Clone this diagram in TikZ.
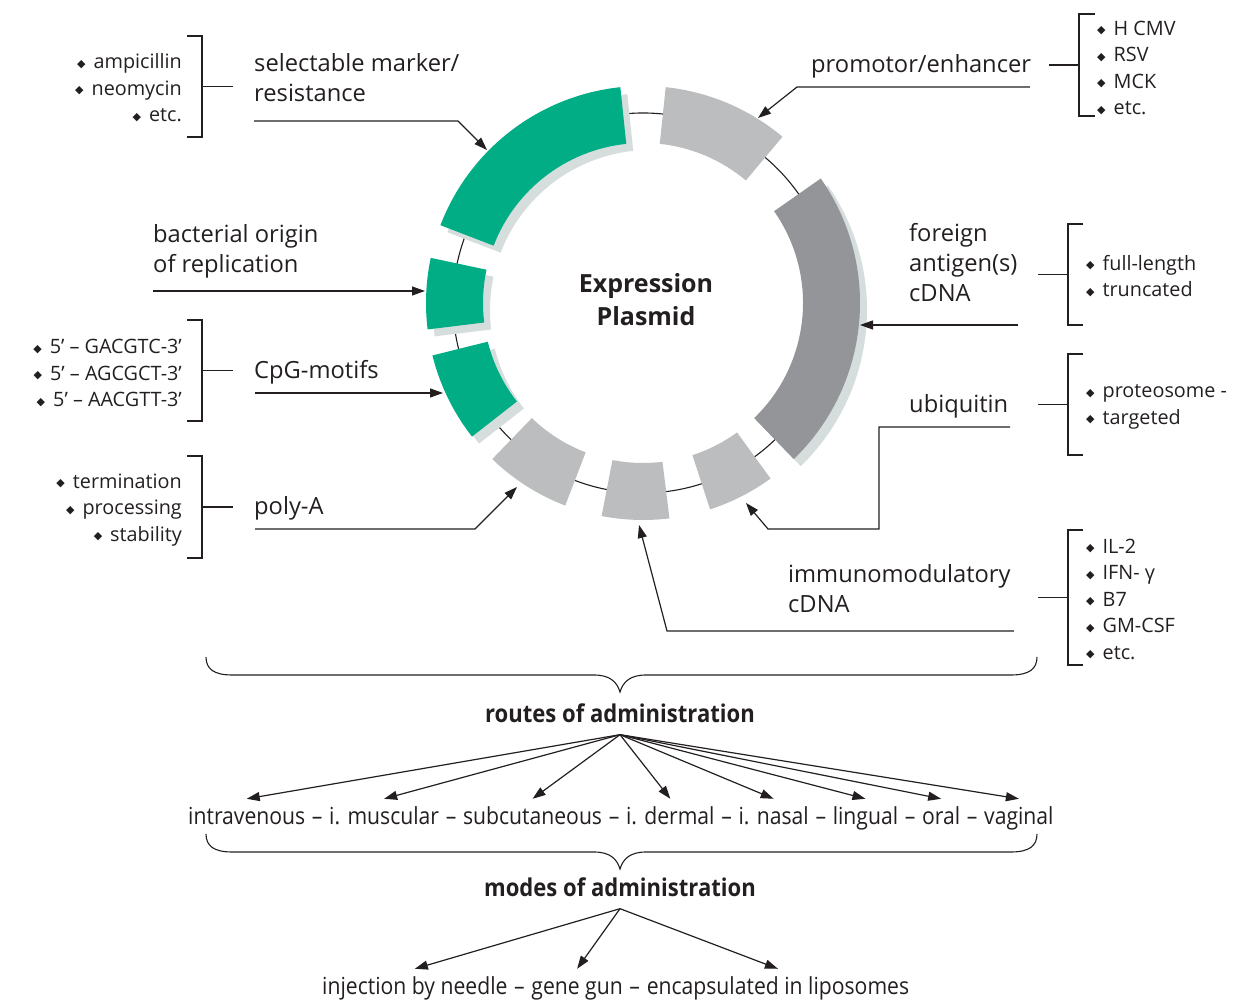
\documentclass[tikz,border=0pt]{standalone}
\usepackage{fontspec}
\setmainfont{Open Sans}
\newfontfamily\condfont[FakeStretch=0.9]{Open Sans}
\newfontfamily\symbfont{DejaVu Sans}
\usetikzlibrary{arrows.meta, positioning}

\definecolor{PlasGreen}{HTML}{00AD85}
\definecolor{PlasGrey}{HTML}{BBBDBF}
\definecolor{PlasDark}{HTML}{939598}
\definecolor{PlasShade}{HTML}{D5DEDD}
\definecolor{InkBlack}{HTML}{231F20}

% small diamond bullet in front of list entries
\newcommand{\bul}{\raisebox{1.5pt}{\symbfont\fontsize{11}{11}\selectfont ◆}\hspace{8pt}}
% annular sector of the plasmid ring: start angle, end angle, fill
\newcommand{\ringseg}[3]{%
  \fill[#3] (#1:160) arc[start angle=#1, end angle=#2, radius=160]
    -- (#2:217) arc[start angle=#2, end angle=#1, radius=217] -- cycle;}

\tikzset{
  lbl/.style={inner sep=0pt, anchor=west, align=left, text=InkBlack,
              font=\fontsize{23.7}{30}\selectfont},
  items/.style={inner sep=0pt, text=InkBlack, font=\fontsize{19.8}{26.5}\selectfont},
  brack/.style={draw=InkBlack, line width=1.2pt},
  pin/.style={draw=InkBlack, line width=1.2pt, -{Triangle[length=13pt,width=9pt]}},
  fan/.style={pin},
  head/.style={inner xsep=0pt, inner ysep=12pt, text=InkBlack,
               font=\condfont\bfseries\fontsize{24.5}{28}\selectfont},
  route/.style={inner xsep=0pt, inner ysep=10pt, text height=16pt, text depth=5pt,
                text=InkBlack, font=\condfont\fontsize{23.5}{28}\selectfont},
  rsep/.style={route, inner xsep=6.3pt},
}

\begin{document}
\begin{tikzpicture}[x=1pt, y=1pt]
\useasboundingbox (0,0) rectangle (1236,1000);

% the plasmid ring
\begin{scope}[shift={(643,697)}]
  \draw[InkBlack, line width=1.1pt] (0,0) circle[radius=190];
  \begin{scope}[shift={(7,-7)}]
    \ringseg{96}{159}{PlasShade}
    \ringseg{168}{187}{PlasShade}
    \ringseg{194}{218}{PlasShade}
    \ringseg{-46}{35}{PlasShade}
  \end{scope}
  \ringseg{96}{159}{PlasGreen}   % resistance
  \ringseg{168}{187}{PlasGreen}  % ori
  \ringseg{194}{218}{PlasGreen}  % CpG
  \ringseg{50}{84}{PlasGrey}     % promotor
  \ringseg{-46}{35}{PlasDark}    % antigen
  \ringseg{-72}{-54}{PlasGrey}   % ubiquitin
  \ringseg{-101}{-83}{PlasGrey}  % immunomodulatory
  \ringseg{-134}{-111}{PlasGrey} % poly-A
\end{scope}

\node[align=center, text=InkBlack, font=\bfseries\fontsize{25}{33}\selectfont]
  (plasmid) at (646,700) {Expression\\Plasmid};

% labels
\node[lbl] (selLbl) at (254,922) {selectable marker/\\resistance};
\node[lbl] (promLbl) at (811,934) {promotor/enhancer};
\node[lbl] (oriLbl) at (153,749) {bacterial origin\\of replication};
\node[lbl] (cpgLbl) at (254,628) {CpG-motifs};
\node[lbl] (polyLbl) at (254,492) {poly-A};
\node[lbl] (agLbl) at (909,737) {foreign\\antigen(s)\\cDNA};
\node[lbl] (ubiLbl) at (909,594) {ubiquitin};
\node[lbl] (immLbl) at (788,411) {immunomodulatory\\cDNA};

% lists
\node[items, anchor=east, align=right] (selList) at (182,912)
  {\bul ampicillin\\\bul neomycin\\\bul etc.};
\node[items, anchor=east, align=right] (cpgList) at (182,627)
  {\bul 5’ – GACGTC-3’\\\bul 5’ – AGCGCT-3’\\\bul 5’ – AACGTT-3’};
\node[items, anchor=east, align=right] (polyList) at (182,490)
  {\bul termination\\\bul processing\\\bul stability};
\node[items, anchor=west, align=left] (promList) at (1097,932)
  {\bul H CMV\\\bul RSV\\\bul MCK\\\bul etc.};
\node[items, anchor=west, align=left] (agList) at (1086,724)
  {\bul full-length\\\bul truncated};
\node[items, anchor=west, align=left] (ubiList) at (1086,593)
  {\bul proteosome -\\\bul targeted};
\node[items, anchor=west, align=left] (immList) at (1086,401)
  {\bul IL-2\\\bul IFN- γ\\\bul B7\\\bul GM-CSF\\\bul etc.};

% brackets: x, top, bottom, end tick, middle tick
\foreach \bx/\bt/\bb/\tk/\st in {202/964/863/-15/31, 202/680/579/-15/31,
    202/544/442/-15/31, 1079/986/884/16/-30, 1068/776/675/15/-30,
    1068/646/545/15/-30, 1068/470/335/15/-30}{
  \draw[brack] (\bx,\bt) ++(\tk,0) -- (\bx,\bt) -- (\bx,\bb) -- ++(\tk,0);
  \draw[brack] (\bx,{(\bt+\bb)/2}) -- ++(\st,0);
}

% pointers onto the ring
\coordinate (selIn) at (254,879);   \coordinate (selTip) at (487,850);
\coordinate (promIn) at (1030,913); \coordinate (promTip) at (758,882);
\coordinate (oriIn) at (153,709);   \coordinate (oriTip) at (425,709);
\coordinate (cpgIn) at (255,607);   \coordinate (cpgTip) at (443,607);
\coordinate (polyIn) at (255,471);  \coordinate (polyTip) at (517,513);
\coordinate (agIn) at (1018,675);   \coordinate (agTip) at (860,675);
\coordinate (ubiIn) at (1010,573);  \coordinate (ubiTip) at (746,497);
\coordinate (immIn) at (1014,369);  \coordinate (immTip) at (639,475);

\draw[pin] (selIn) -- ++(204,0) -- (selTip);
\draw[pin] (promIn) -- ++(-233,0) -- (promTip);
\draw[pin] (oriIn) -- (oriTip);
\draw[pin] (cpgIn) -- (cpgTip);
\draw[pin] (polyIn) -- ++(220,0) -- (polyTip);
\draw[pin] (agIn) -- (agTip);
\draw[pin] (ubiIn) -- ++(-131,0) -- ++(0,-102) -- ++(-111,0) -- (ubiTip);
\draw[pin] (immIn) -- ++(-347,0) -- (immTip);

% braces
\foreach \by in {0,177}{
  \draw[brack, line width=1.1pt, yshift=-\by]
    (206,343) .. controls (206,331) and (214,325) .. (232,325) -- (594,325)
    .. controls (610,325) and (617,318) .. (620,308)
    .. controls (623,318) and (630,325) .. (646,325) -- (1011,325)
    .. controls (1029,325) and (1037,331) .. (1037,343);
}

% routes
\node[head] (routes) at (620,287) {routes of administration};
\node[route, anchor=base west] (iv) at (188,175) {intravenous};
\node[rsep, right=0pt of iv] (s1) {–};
\node[route, right=0pt of s1] (im) {i. muscular};
\node[rsep, right=0pt of im] (s2) {–};
\node[route, right=0pt of s2] (sc) {subcutaneous};
\node[rsep, right=0pt of sc] (s3) {–};
\node[route, right=0pt of s3] (de) {i. dermal};
\node[rsep, right=0pt of de] (s4) {–};
\node[route, right=0pt of s4] (na) {i. nasal};
\node[rsep, right=0pt of na] (s5) {–};
\node[route, right=0pt of s5] (li) {lingual};
\node[rsep, right=0pt of li] (s6) {–};
\node[route, right=0pt of s6] (or) {oral};
\node[rsep, right=0pt of or] (s7) {–};
\node[route, right=0pt of s7] (va) {vaginal};
\foreach \w in {iv,im,sc,de,na,li,or,va}
  \draw[fan] (routes.south) -- (\w.north);

% modes
\node[head] (modes) at (620,113) {modes of administration};
\node[route, anchor=base west] (inj) at (322,5) {injection by needle};
\node[rsep, right=0pt of inj] (m1) {–};
\node[route, right=0pt of m1] (gg) {gene gun};
\node[rsep, right=0pt of gg] (m2) {–};
\node[route, right=0pt of m2] (lip) {encapsulated in liposomes};
\foreach \w in {inj,gg,lip}
  \draw[fan] (modes.south) -- (\w.north);
\end{tikzpicture}
\end{document}
